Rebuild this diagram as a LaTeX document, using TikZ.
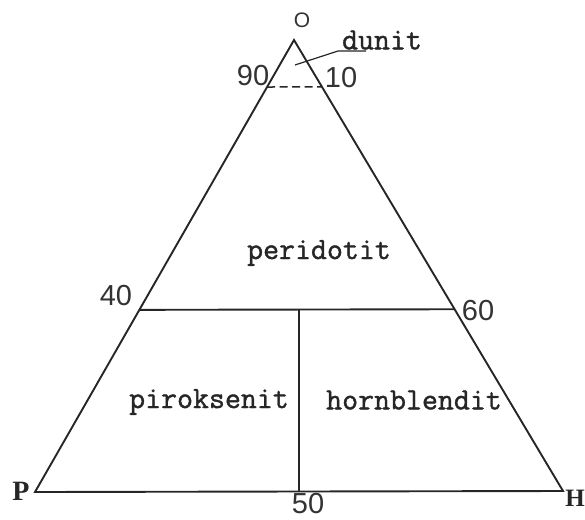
\documentclass[tikz,border=0pt]{standalone}
\usepackage{fontspec}
\newfontfamily\numfont{Liberation Sans}
\newfontfamily\capfont{Liberation Serif}
\newfontfamily\typefont[FakeBold=1.2]{Latin Modern Mono}
\usetikzlibrary{calc}
\begin{document}
\begin{tikzpicture}[x=1pt,y=-1pt,
  edge/.style={line width=1.9pt, line join=miter, draw=black!85},
  leader/.style={line width=1.2pt, draw=black!85},
  word/.style={font=\fontsize{31}{31}\selectfont\typefont, inner sep=0pt, text=black!85},
  num/.style={font=\fontsize{29}{29}\selectfont\numfont, inner sep=0pt, text=black!80},
  corner/.style={font=\fontsize{28}{28}\selectfont\capfont\bfseries, inner sep=0pt, text=black!85}]
\useasboundingbox (0,0) rectangle (585,519);
\coordinate (O) at (294,40);
\coordinate (P) at (35,492);
\coordinate (H) at (563,491);
\coordinate (dl) at ($(O)!0.104!(P)$);
\coordinate (dr) at ($(O)!0.104!(H)$);
\coordinate (ml) at ($(O)!0.597!(P)$);
\coordinate (mr) at ($(O)!0.597!(H)$);
\coordinate (mb) at (299,491.5);
\coordinate (mt) at (mb |- ml);
\draw[edge] (P) -- (O) -- (H) -- cycle;
\draw[edge] (ml) -- (mr);
\draw[edge] (mt) -- (mb);
\draw[edge, line width=1.5pt, dash pattern=on 8pt off 4.5pt] (dl) -- (dr);
% leader for dunit
\coordinate (ls) at (295,65);
\coordinate (lk) at (338,51);
\coordinate (le) at (366,51);
\draw[leader] (ls) -- (lk) -- (le);
% labels
\node[num, font=\fontsize{21}{21}\selectfont\numfont] (lO) at (302,20) {O};
\node[word] (dunit) at (382,40) {dunit};
\node[num] (l90) at (253,76) {90};
\node[num] (l10) at (341,78) {10};
\node[num] (l40) at (116,296) {40};
\node[num] (l60) at (478,311) {60};
\node[num] (l50) at (308,504) {50};
\node[word] (peri) at (319,253) {peridotit};
\node[word] (pirok) at (209,402) {piroksenit};
\node[word] (horn) at (414,400) {hornblendit};
\node[corner] (lP) at (21,491) {P};
\node[corner, font=\fontsize{25}{25}\selectfont\capfont\bfseries] (lH) at (575,498) {H};
\end{tikzpicture}
\end{document}
